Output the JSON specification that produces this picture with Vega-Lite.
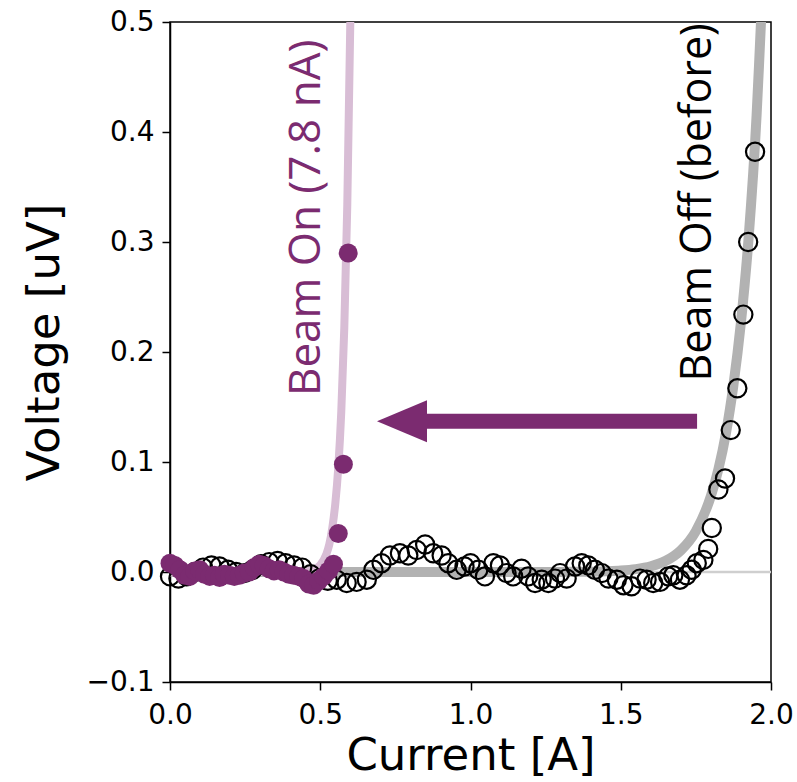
{
  "$schema": "https://vega.github.io/schema/vega-lite/v6.json",
  "autosize": {"type": "none"},
  "padding": {"left": 170, "top": 22, "right": 26, "bottom": 100},
  "width": 601,
  "height": 660,
  "background": "white",
  "datasets": {
    "off": [
      {"I":0.000,"V":-0.004},{"I":0.028,"V":-0.006},{"I":0.055,"V":-0.004},{"I":0.083,"V":0.000},{"I":0.110,"V":0.004},
      {"I":0.138,"V":0.006},{"I":0.165,"V":0.005},{"I":0.193,"V":0.002},{"I":0.220,"V":0.000},{"I":0.248,"V":-0.001},
      {"I":0.275,"V":0.002},{"I":0.303,"V":0.007},{"I":0.330,"V":0.009},{"I":0.358,"V":0.010},{"I":0.385,"V":0.008},
      {"I":0.413,"V":0.006},{"I":0.440,"V":0.004},{"I":0.468,"V":-0.002},{"I":0.495,"V":-0.006},{"I":0.525,"V":-0.008},
      {"I":0.555,"V":-0.007},{"I":0.588,"V":-0.010},{"I":0.621,"V":-0.009},{"I":0.655,"V":-0.007},{"I":0.677,"V":0.002},
      {"I":0.704,"V":0.008},{"I":0.732,"V":0.015},{"I":0.765,"V":0.017},{"I":0.793,"V":0.015},{"I":0.821,"V":0.020},
      {"I":0.849,"V":0.025},{"I":0.876,"V":0.017},{"I":0.904,"V":0.015},{"I":0.926,"V":0.008},{"I":0.954,"V":0.002},
      {"I":0.980,"V":0.005},{"I":1.000,"V":0.008},{"I":1.026,"V":0.002},{"I":1.048,"V":-0.004},{"I":1.076,"V":0.008},
      {"I":1.098,"V":0.006},{"I":1.120,"V":-0.001},{"I":1.142,"V":-0.004},{"I":1.170,"V":0.003},{"I":1.192,"V":-0.004},
      {"I":1.215,"V":-0.010},{"I":1.237,"V":-0.007},{"I":1.259,"V":-0.010},{"I":1.281,"V":-0.006},{"I":1.298,"V":-0.001},
      {"I":1.320,"V":-0.006},{"I":1.348,"V":0.005},{"I":1.370,"V":0.008},{"I":1.392,"V":0.006},{"I":1.414,"V":0.002},
      {"I":1.437,"V":-0.001},{"I":1.459,"V":-0.006},{"I":1.487,"V":-0.007},{"I":1.509,"V":-0.012},{"I":1.536,"V":-0.013},
      {"I":1.564,"V":-0.006},{"I":1.586,"V":-0.007},{"I":1.608,"V":-0.010},{"I":1.631,"V":-0.009},{"I":1.658,"V":-0.004},
      {"I":1.675,"V":-0.003},{"I":1.697,"V":-0.007},{"I":1.719,"V":-0.003},{"I":1.736,"V":0.002},{"I":1.753,"V":0.008},
      {"I":1.775,"V":0.011},{"I":1.791,"V":0.021},{"I":1.803,"V":0.040},{"I":1.825,"V":0.075},{"I":1.847,"V":0.085},
      {"I":1.866,"V":0.129},{"I":1.888,"V":0.167},{"I":1.908,"V":0.234},{"I":1.924,"V":0.300},{"I":1.947,"V":0.382}
    ],
    "on": [
      {"I":0.000,"V":0.008},{"I":0.016,"V":0.006},{"I":0.033,"V":0.002},{"I":0.049,"V":-0.003},{"I":0.066,"V":-0.004},
      {"I":0.082,"V":0.001},{"I":0.099,"V":0.002},{"I":0.115,"V":-0.002},{"I":0.132,"V":-0.004},{"I":0.148,"V":-0.003},
      {"I":0.165,"V":-0.005},{"I":0.181,"V":-0.002},{"I":0.198,"V":-0.003},{"I":0.214,"V":-0.004},{"I":0.231,"V":-0.003},
      {"I":0.247,"V":-0.001},{"I":0.264,"V":0.000},{"I":0.280,"V":0.004},{"I":0.297,"V":0.007},{"I":0.313,"V":0.006},
      {"I":0.330,"V":0.003},{"I":0.346,"V":0.001},{"I":0.363,"V":0.002},{"I":0.379,"V":0.000},{"I":0.396,"V":-0.002},
      {"I":0.412,"V":-0.003},{"I":0.429,"V":-0.004},{"I":0.445,"V":-0.006},{"I":0.462,"V":-0.011},{"I":0.478,"V":-0.012},
      {"I":0.495,"V":-0.008},{"I":0.511,"V":-0.004},{"I":0.528,"V":0.001},{"I":0.544,"V":0.007},{"I":0.560,"V":0.035},
      {"I":0.577,"V":0.098},{"I":0.593,"V":0.290}
    ],
    "offfit": [
      {"I":0,"V":0},{"I":1.0,"V":0},{"I":1.3,"V":0.0001},{"I":1.4,"V":0.0003},{"I":1.45,"V":0.0007},{"I":1.5,"V":0.0013},
      {"I":1.55,"V":0.0026},{"I":1.6,"V":0.0052},{"I":1.65,"V":0.0102},{"I":1.7,"V":0.0197},{"I":1.75,"V":0.0372},
      {"I":1.8,"V":0.069},{"I":1.825,"V":0.0935},{"I":1.85,"V":0.126},{"I":1.875,"V":0.170},{"I":1.9,"V":0.227},
      {"I":1.925,"V":0.302},{"I":1.952,"V":0.415},{"I":1.96,"V":0.46},{"I":1.97,"V":0.52},{"I":1.98,"V":0.58}
    ],
    "onfit": [
      {"I":0,"V":0},{"I":0.4,"V":0.0001},{"I":0.45,"V":0.0005},{"I":0.48,"V":0.0024},{"I":0.50,"V":0.0063},
      {"I":0.52,"V":0.016},{"I":0.53,"V":0.025},{"I":0.54,"V":0.040},{"I":0.55,"V":0.062},{"I":0.56,"V":0.095},
      {"I":0.57,"V":0.146},{"I":0.58,"V":0.222},{"I":0.59,"V":0.334},{"I":0.60,"V":0.5},{"I":0.605,"V":0.61}
    ],
    "zero": [{"I":0,"I2":2,"V":0}],
    "shaft": [{"I":0.84,"I2":1.754,"V":0.137}],
    "head": [{"I":0.772,"V":0.137}],
    "lblon": [{"I":0.456,"V":0.322,"label":"Beam On (7.8 nA)"}],
    "lbloff": [{"I":1.757,"V":0.336,"label":"Beam Off (before)"}]
  },
  "encoding": {
    "x": {
      "field": "I", "type": "quantitative",
      "scale": {"domain": [0, 2], "nice": false, "zero": false},
      "axis": {
        "title": "Current [A]", "values": [0, 0.5, 1, 1.5, 2], "format": ".1f",
        "labelFlush": false, "labelOverlap": false, "labelPadding": 11,
        "titleY": 87, "titleBaseline": "alphabetic"
      }
    },
    "y": {
      "field": "V", "type": "quantitative",
      "scale": {"domain": [-0.1, 0.5], "nice": false, "zero": false},
      "axis": {
        "title": "Voltage [uV]", "values": [-0.1, 0, 0.1, 0.2, 0.3, 0.4, 0.5], "format": ".1f",
        "labelFlush": false, "labelOverlap": false, "labelPadding": 8,
        "titleX": -112, "titleY": 320, "titleAngle": 270, "titleAlign": "center", "titleBaseline": "alphabetic"
      }
    }
  },
  "layer": [
    {"data": {"name": "zero"}, "mark": {"type": "rule", "color": "#cfcfcf", "strokeWidth": 2.5}, "encoding": {"x2": {"field": "I2"}}},
    {"data": {"name": "offfit"}, "mark": {"type": "line", "color": "#b2b2b2", "strokeWidth": 10, "interpolate": "monotone", "clip": true}, "encoding": {}},
    {"data": {"name": "onfit"}, "mark": {"type": "line", "color": "#d8bdd5", "strokeWidth": 8, "interpolate": "monotone", "clip": true}, "encoding": {}},
    {"data": {"name": "off"}, "mark": {"type": "point", "shape": "circle", "filled": false, "stroke": "black", "strokeWidth": 2.2, "size": 330, "opacity": 1}, "encoding": {}},
    {"data": {"name": "on"}, "mark": {"type": "circle", "color": "#7b2b70", "size": 360, "opacity": 1}, "encoding": {}},
    {"data": {"name": "shaft"}, "mark": {"type": "rule", "color": "#7b2b70", "strokeWidth": 15, "strokeCap": "butt"}, "encoding": {"x2": {"field": "I2"}}},
    {"data": {"name": "head"}, "mark": {"type": "point", "shape": "M-1,0L1,-0.84L1,0.84Z", "filled": true, "color": "#7b2b70", "size": 2500, "opacity": 1}, "encoding": {}},
    {"data": {"name": "lblon"}, "mark": {"type": "text", "angle": 270, "align": "center", "baseline": "middle", "font": "Open Sans", "fontSize": 44, "color": "#7b2b70"}, "encoding": {"text": {"field": "label"}}},
    {"data": {"name": "lbloff"}, "mark": {"type": "text", "angle": 270, "align": "center", "baseline": "middle", "font": "Open Sans", "fontSize": 43, "color": "black"}, "encoding": {"text": {"field": "label"}}}
  ],
  "config": {
    "view": {"stroke": "black", "strokeWidth": 1.5},
    "axis": {
      "grid": false, "domainColor": "black", "domainWidth": 1.5, "tickColor": "black", "tickWidth": 1.5, "tickSize": 8,
      "labelColor": "black", "labelFont": "DejaVu Sans", "labelFontSize": 28,
      "titleColor": "black", "titleFont": "DejaVu Sans", "titleFontSize": 45, "titleFontWeight": "normal"
    }
  }
}
